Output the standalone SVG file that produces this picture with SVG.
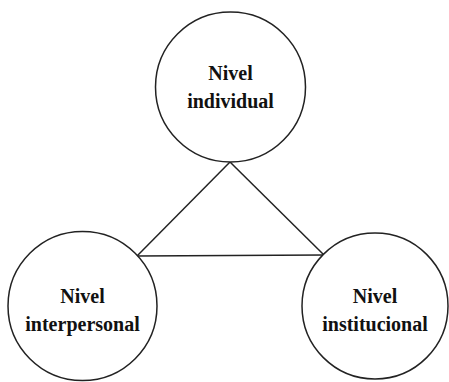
<svg xmlns="http://www.w3.org/2000/svg" width="449" height="382" viewBox="0 0 449 382">
<style>
.node{fill:#fff;stroke:#222;stroke-width:1.5}
.lbl{font-family:"Liberation Serif","Times New Roman",serif;font-weight:bold;font-size:20px;fill:#111;text-anchor:middle}
.edge{stroke:#222;stroke-width:1.5;fill:none}
</style>
<rect width="449" height="382" fill="#fff"/>
<g id="connectors">
<line class="edge" x1="230" y1="162" x2="137" y2="256"/>
<line class="edge" x1="230" y1="162" x2="324" y2="255"/>
<line class="edge" x1="137" y1="256" x2="324" y2="255"/>
</g>
<g id="node-individual">
<circle class="node" cx="230.5" cy="87" r="75"/>
<text class="lbl" x="230.5" y="80">Nivel</text>
<text class="lbl" x="230.5" y="108">individual</text>
</g>
<g id="node-interpersonal">
<circle class="node" cx="82.5" cy="306" r="74.5"/>
<text class="lbl" x="82.5" y="303">Nivel</text>
<text class="lbl" x="82.5" y="331">interpersonal</text>
</g>
<g id="node-institucional">
<circle class="node" cx="375" cy="306" r="73"/>
<text class="lbl" x="375" y="303">Nivel</text>
<text class="lbl" x="375" y="331">institucional</text>
</g>
</svg>
